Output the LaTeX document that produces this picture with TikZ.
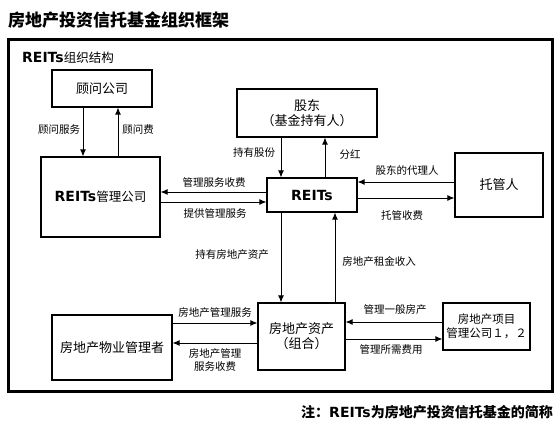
\documentclass[tikz,border=0pt]{standalone}
\usepackage{fontspec}
\setmainfont{Noto Sans CJK SC}
\newfontfamily\reitsfont{DejaVu Sans}
\usepackage{tikz}
\usetikzlibrary{positioning,calc,arrows.meta}

\tikzset{
  box/.style={draw, line width=1.2pt, align=center, font=\fontsize{13}{15}\selectfont, inner sep=2pt},
  lbl/.style={font=\fontsize{10.5}{12.5}\selectfont, align=center, inner sep=1pt},
  arr/.style={line width=0.9pt, -{Latex[length=7pt,width=6pt]}}
}
\newcommand{\reits}{{\reitsfont\bfseries REITs}}

\begin{document}
\begin{tikzpicture}[x=1pt,y=-1pt]
    \useasboundingbox (0,0) rectangle (560,435);

    % Title and frame
    \node[anchor=west, font=\fontsize{17}{19}\selectfont\bfseries, inner sep=0pt] (title) at (8,20) {房地产投资信托基金组织框架};
    \draw[line width=3pt] (8,40) rectangle (552,392);
    \node[anchor=west, inner sep=0pt] (heading) at (22,58) {\fontsize{14}{16}\selectfont\reits\fontsize{12.5}{14}\selectfont 组织结构};

    % Boxes
    \node[box, minimum width=100pt, minimum height=37pt] (guwen) at (102,88.5) {顾问公司};
    \node[box, minimum width=119pt, minimum height=80pt] (mgmt) at (100.5,197) {\fontsize{14}{16}\selectfont\reits\fontsize{12.5}{14}\selectfont 管理公司};
    \node[box, minimum width=140pt, minimum height=48pt] (gudong) at (307,113) {股东\\（基金持有人）};
    \node[box, minimum width=90pt, minimum height=34pt, font=\fontsize{14}{16}\selectfont] (reits) at (312,195) {\reits};
    \node[box, minimum width=88pt, minimum height=64pt] (tuoguan) at (499,185) {托管人};
    \node[box, minimum width=87pt, minimum height=67pt] (zichan) at (301.5,336.5) {房地产资产\\（组合）};
    \node[box, minimum width=120pt, minimum height=65pt] (wuye) at (112,347.5) {房地产物业管理者};
    \node[box, minimum width=87pt, minimum height=47pt, font=\fontsize{11.5}{13.5}\selectfont] (xiangmu) at (486.5,326.5) {房地产项目\\管理公司１，２};

    % Connectors
    \draw[arr] ([xshift=-19pt]guwen.south) -- ([xshift=-19pt]guwen.south |- mgmt.north);
    \draw[arr] ([xshift=16pt]guwen.south |- mgmt.north) -- ([xshift=16pt]guwen.south);
    \draw[arr] ([xshift=-31pt]reits.north |- gudong.south) -- ([xshift=-31pt]reits.north);
    \draw[arr] ([xshift=13pt]reits.north) -- ([xshift=13pt]reits.north |- gudong.south);
    \draw[arr] ([yshift=3pt]reits.west) -- ([yshift=3pt]reits.west -| mgmt.east);
    \draw[arr] ([yshift=-7pt]reits.west -| mgmt.east) -- ([yshift=-7pt]reits.west);
    \draw[arr] ([yshift=13pt]reits.east -| tuoguan.west) -- ([yshift=13pt]reits.east);
    \draw[arr] ([yshift=-3pt]reits.east) -- ([yshift=-3pt]reits.east -| tuoguan.west);
    \draw[arr] ([xshift=-31pt]reits.south) -- ([xshift=-31pt]reits.south |- zichan.north);
    \draw[arr] ([xshift=23pt]reits.south |- zichan.north) -- ([xshift=23pt]reits.south);
    \draw[arr] ([yshift=13.5pt]zichan.west -| wuye.east) -- ([yshift=13.5pt]zichan.west);
    \draw[arr] ([yshift=-6.5pt]zichan.west) -- ([yshift=-6.5pt]zichan.west -| wuye.east);
    \draw[arr] ([yshift=14.5pt]zichan.east -| xiangmu.west) -- ([yshift=14.5pt]zichan.east);
    \draw[arr] ([yshift=-2.5pt]zichan.east) -- ([yshift=-2.5pt]zichan.east -| xiangmu.west);

    % Labels
    \node[lbl] (guwenfuwu) at (59,130) {顾问服务};
    \node[lbl] (guwenfei) at (138,130) {顾问费};
    \node[lbl] (chiyougufen) at (254,153) {持有股份};
    \node[lbl] (fenhong) at (350,155) {分红};
    \node[lbl] (fuwushoufei) at (214,182) {管理服务收费};
    \node[lbl] (tigongfuwu) at (215,213) {提供管理服务};
    \node[lbl] (dailiren) at (407,170) {股东的代理人};
    \node[lbl] (tuoguanshoufei) at (402,215) {托管收费};
    \node[lbl] (chiyouzichan) at (232,255) {持有房地产资产};
    \node[lbl] (zujin) at (379,262) {房地产租金收入};
    \node[lbl] (guanlifuwu) at (215,313) {房地产管理服务};
    \node[lbl] (guanlishoufei) at (215,360) {房地产管理\\服务收费};
    \node[lbl] (yibanfangchan) at (395,310) {管理一般房产};
    \node[lbl] (suoxufeiyong) at (391,350) {管理所需费用};

    % Note
    \node[anchor=east, inner sep=0pt, font=\fontsize{14}{16}\selectfont\bfseries] (note) at (553,412) {注：\reits 为房地产投资信托基金的简称};
\end{tikzpicture}
\end{document}
